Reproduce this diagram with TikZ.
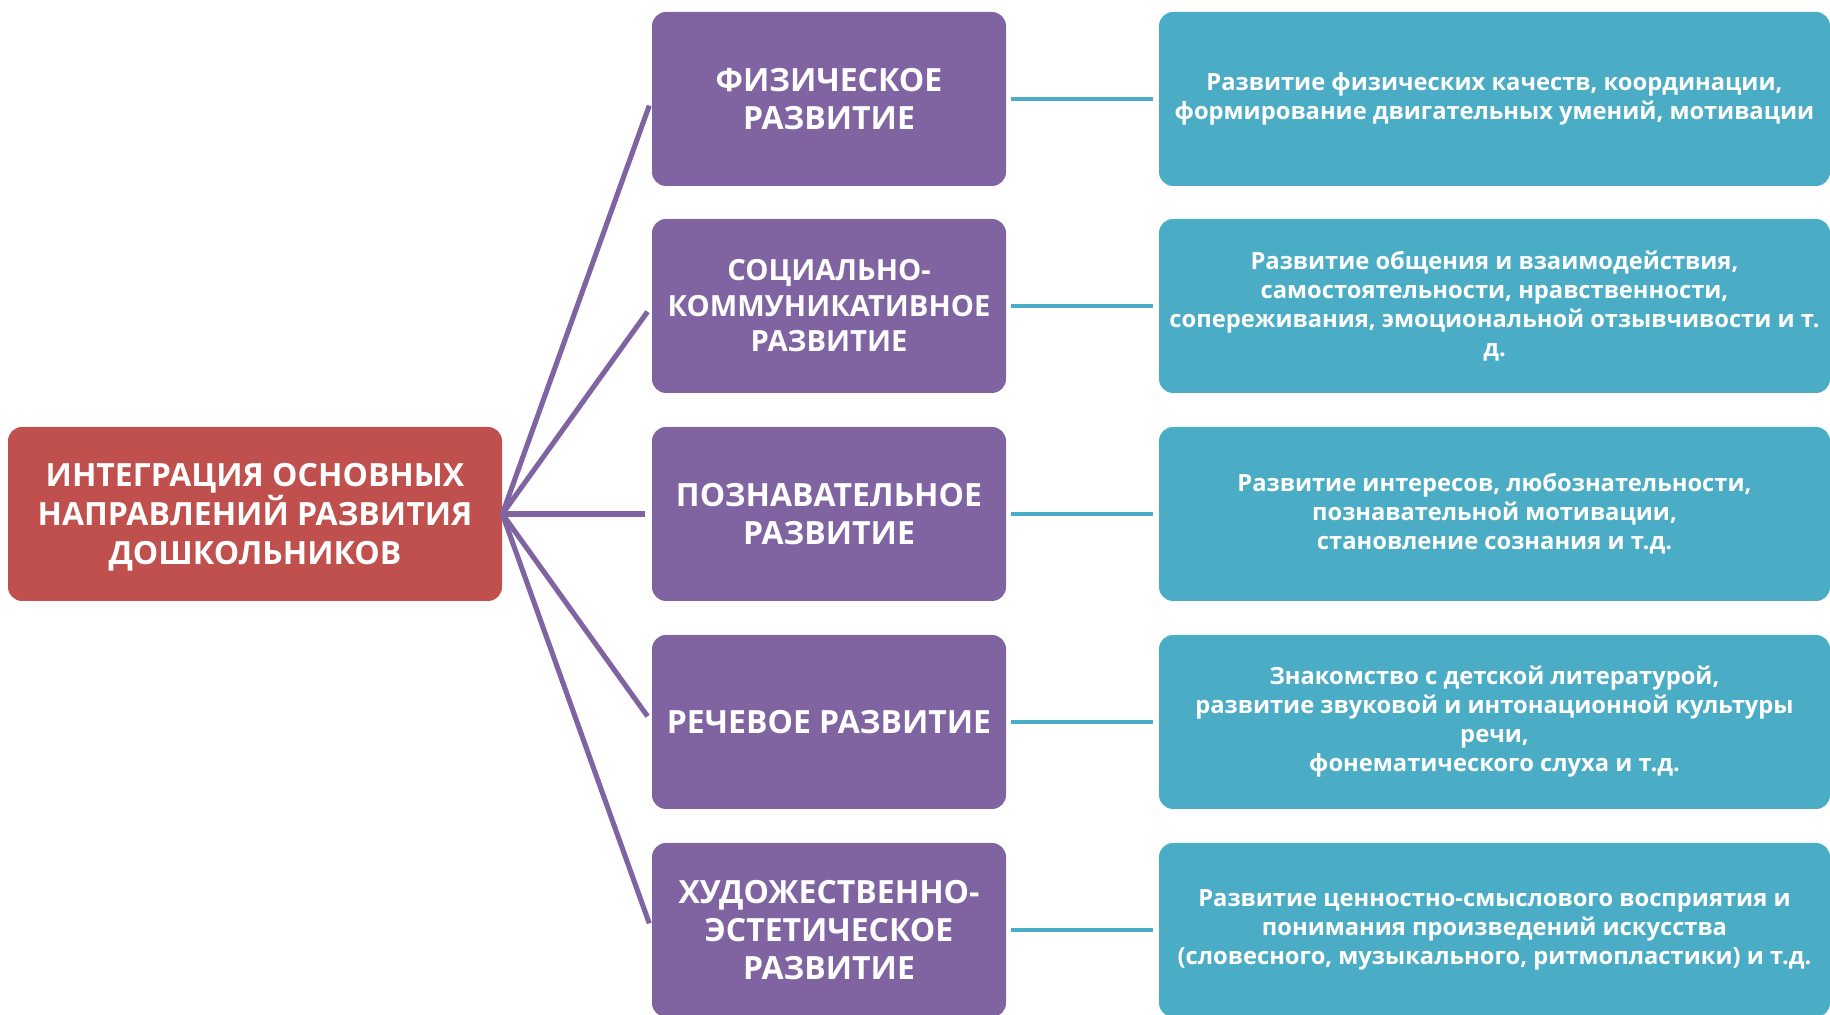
\documentclass[tikz,border=0pt]{standalone}
\usepackage{fontspec}
\setmainfont{Open Sans}
\usepackage{xcolor}
\usepackage{tikz}
\usetikzlibrary{positioning}
\definecolor{dvred}{HTML}{C0504D}
\definecolor{dvpurple}{HTML}{8064A2}
\definecolor{dvteal}{HTML}{4BACC6}

\begin{document}
\begin{tikzpicture}[
  font=\bfseries,
  mainbox/.style={rectangle, rounded corners=0.28cm, fill=dvred, text=white, minimum width=9.88cm, minimum height=3.48cm, align=center, inner sep=0pt, text depth=0pt, font=\fontsize{18.2}{22.3}\selectfont\bfseries},
  dirbox/.style={rectangle, rounded corners=0.28cm, fill=dvpurple, text=white, minimum width=7.08cm, minimum height=3.48cm, align=center, inner sep=0pt, font=\fontsize{18.2}{21.4}\selectfont\bfseries},
  descbox/.style={rectangle, rounded corners=0.28cm, fill=dvteal, text=white, minimum width=13.42cm, minimum height=3.48cm, align=center, inner sep=0pt, font=\fontsize{13.5}{16.5}\selectfont\bfseries},
  fanline/.style={draw=dvpurple, line width=2.9pt, shorten >=4pt},
  linkline/.style={draw=dvteal, line width=2.6pt, shorten <=2.5pt, shorten >=3pt},
]
\useasboundingbox (0,0) rectangle (36.6,20.3);

% ============ central red box ============
\node[mainbox] (integr) at (5.10,10.02) {ИНТЕГРАЦИЯ ОСНОВНЫХ\\НАПРАВЛЕНИЙ РАЗВИТИЯ\\ДОШКОЛЬНИКОВ};

% ============ directions (purple column) ============
\node[dirbox] (phys) at (16.58,18.32) {ФИЗИЧЕСКОЕ\\РАЗВИТИЕ};
\node[dirbox, font=\fontsize{16.6}{20.2}\selectfont\bfseries] (soc) at (16.58,14.18) {СОЦИАЛЬНО-\\КОММУНИКАТИВНОЕ\\РАЗВИТИЕ};
\node[dirbox] (cogn) at (16.58,10.02) {ПОЗНАВАТЕЛЬНОЕ\\РАЗВИТИЕ};
\node[dirbox] (speech) at (16.58,5.86) {РЕЧЕВОЕ РАЗВИТИЕ};
\node[dirbox] (art)  at (16.58,1.70) {ХУДОЖЕСТВЕННО-\\ЭСТЕТИЧЕСКОЕ\\РАЗВИТИЕ};

% ============ descriptions (teal column) ============
\node[descbox] (physd) at (29.89,18.32) {Развитие физических качеств, координации,\\формирование двигательных умений, мотивации};
\node[descbox] (socd)  at (29.89,14.18) {Развитие общения и взаимодействия,\\самостоятельности, нравственности,\\сопереживания, эмоциональной отзывчивости и т.\\д.};
\node[descbox] (cognd) at (29.89,10.02) {Развитие интересов, любознательности,\\познавательной мотивации,\\становление сознания и т.д.};
\node[descbox] (speechd) at (29.89,5.86) {Знакомство с детской литературой,\\развитие звуковой и интонационной культуры\\речи,\\фонематического слуха и т.д.};
\node[descbox] (artd)  at (29.89,1.70) {Развитие ценностно-смыслового восприятия и\\понимания произведений искусства\\(словесного, музыкального, ритмопластики) и т.д.};

% ===================== FAN LINES =====================
\draw[fanline] (integr.east) -- (phys.west);
\draw[fanline] (integr.east) -- (soc.west);
\draw[fanline] (integr.east) -- (cogn.west);
\draw[fanline] (integr.east) -- (speech.west);
\draw[fanline] (integr.east) -- (art.west);

% ===================== LINKS =====================
\draw[linkline] (phys.east) -- (physd.west);
\draw[linkline] (soc.east) -- (socd.west);
\draw[linkline] (cogn.east) -- (cognd.west);
\draw[linkline] (speech.east) -- (speechd.west);
\draw[linkline] (art.east) -- (artd.west);

\end{tikzpicture}
\end{document}
